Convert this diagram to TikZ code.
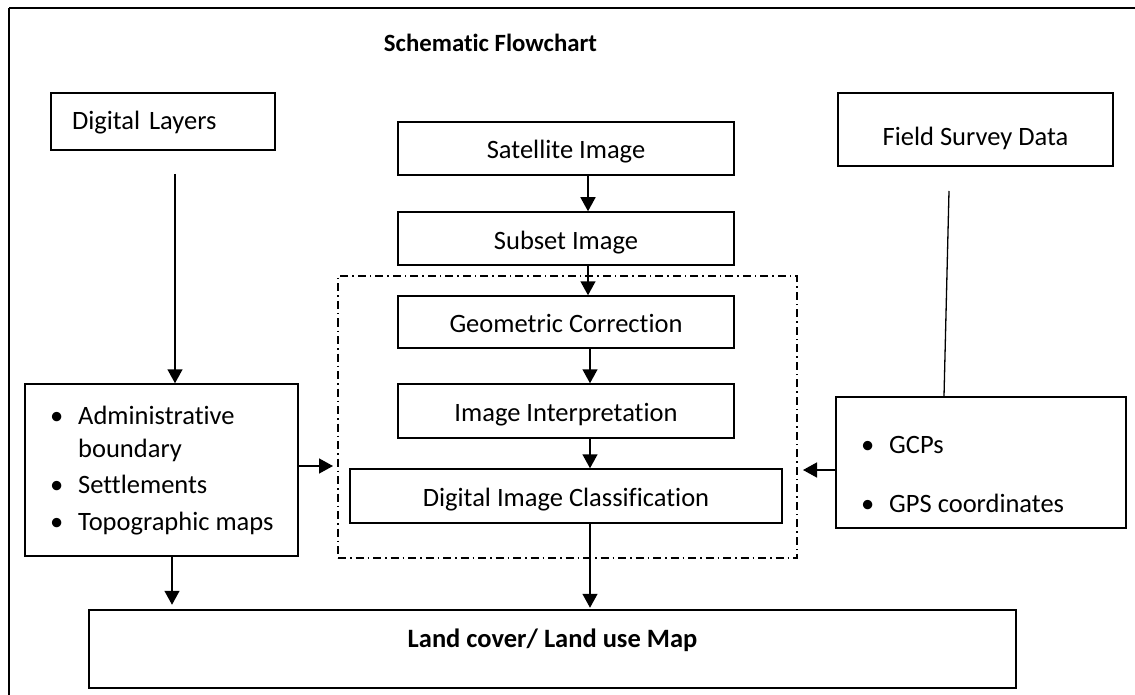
\documentclass[tikz,border=0pt]{standalone}
\usepackage{fontspec}
\setmainfont{Carlito}[Ligatures=NoCommon]
\usetikzlibrary{arrows.meta}
\begin{document}
\begin{tikzpicture}[x=1pt,y=-1pt,
  every node/.style={font=\fontsize{26.5}{33}\selectfont, inner sep=0pt},
  box/.style={draw, line width=1.5pt, text height=21pt, text depth=0pt},
  bigbox/.style={draw, line width=2.5pt},
  arr/.style={line width=1.5pt, -{Triangle[length=14pt,width=15pt]}},
  ln/.style={line width=1.3pt},
  grpbox/.style={draw, line width=1.5pt, dash pattern=on 8pt off 4pt on 1.5pt off 4pt},
  boldtext/.style={font=\fontsize{26.5}{33}\selectfont\bfseries},
  titletext/.style={font=\fontsize{24.8}{30}\selectfont\bfseries}]

\useasboundingbox (0,0) rectangle (1135,695);

% frame
\draw[line width=2.7pt] (9,8) -- (1135,8);
\draw[line width=1.5pt] (9,8) -- (9,695);

% title
\node[titletext, anchor=base] (title) at (490.5,52) {Schematic Flowchart};

% centre column
\node[box, minimum width=336pt, minimum height=53pt] (sat) at (566,148.5) {Satellite Image};
\node[box, minimum width=336pt, minimum height=53pt] (sub) at (566,238.5) {Subset Image};
\node[grpbox, minimum width=459pt, minimum height=282pt] (grp) at (567.5,417) {};
\node[box, minimum width=336pt, minimum height=52pt] (geo) at (566,322) {Geometric Correction};
\node[box, minimum width=336pt, minimum height=54pt] (ii) at (566,411) {Image Interpretation};
\node[box, minimum width=432pt, minimum height=54pt] (dic) at (566,496) {Digital Image Classification};

% result
\node[bigbox, minimum width=927pt, minimum height=78pt] (lc) at (552.5,649) {};
\node[boldtext, anchor=base] (lct) at (552.5,647) {Land cover/ Land use Map};

% left
\node[box, minimum width=224pt, minimum height=57pt, text height=17pt, text width=182pt, align=left] (dl) at (163,121.5) {Digital Layers};
\node[box, minimum width=273pt, minimum height=172pt] (lb) at (161.5,470) {};
\node[anchor=base west] (lbt) at (50,424) {\begin{tabular}[t]{@{}l@{}l@{}}\makebox[28pt][l]{\textbullet} & Administrative\\ & boundary\\[3pt] \textbullet & Settlements\\[4pt] \textbullet & Topographic maps\end{tabular}};

% right
\node[box, minimum width=275pt, minimum height=73pt, text height=32pt] (fs) at (975.5,129.5) {Field Survey Data};
\node[box, minimum width=290pt, minimum height=131pt] (rb) at (981,462.5) {};
\node[anchor=base west] (rbt) at (861,453) {\begin{tabular}[t]{@{}l@{}l@{}}\makebox[28pt][l]{\textbullet} & GCPs\\[26pt] \textbullet & GPS coordinates\end{tabular}};

% connectors
\coordinate (cx) at (588,0);
\coordinate (cy) at (590,0);
\draw[arr] (sat.south -| cx) -- (sub.north -| cx);
\draw[arr] (sub.south -| cx) -- (geo.north -| cx);
\draw[arr] (geo.south -| cy) -- (ii.north -| cy);
\draw[arr] (ii.south -| cy) -- (dic.north -| cy);
\draw[arr, shorten >=1pt] (dic.south -| cy) -- (lc.north -| cy);

\coordinate (dls) at (175,174);
\draw[arr] (dls) -- (lb.north -| dls);
\coordinate (la) at (0,466);
\coordinate (lat) at (333,466);
\draw[arr] (lb.east |- la) -- (lat);
\coordinate (lbx) at (172,0);
\draw[arr, shorten >=4pt] (lb.south -| lbx) -- (lc.north -| lbx);

\coordinate (fss) at (949,191);
\coordinate (fse) at (944,0);
\draw[ln] (fss) -- (rb.north -| fse);
\coordinate (ra) at (0,470);
\coordinate (rat) at (803,470);
\draw[arr] (rb.west |- ra) -- (rat);
\end{tikzpicture}
\end{document}
